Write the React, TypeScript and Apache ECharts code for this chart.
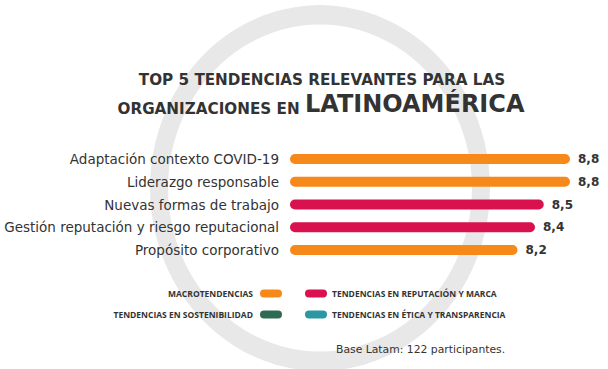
import React, { useEffect, useRef } from "react";
import * as echarts from "echarts";

const categories = [
  "Adaptación contexto COVID-19",
  "Liderazgo responsable",
  "Nuevas formas de trabajo",
  "Gestión reputación y riesgo reputacional",
  "Propósito corporativo",
];
const values = [8.8, 8.8, 8.5, 8.4, 8.2];
const groups = [0, 0, 1, 1, 0];
const groupNames = [
  "MACROTENDENCIAS",
  "TENDENCIAS EN REPUTACIÓN Y MARCA",
  "TENDENCIAS EN SOSTENIBILIDAD",
  "TENDENCIAS EN ÉTICA Y TRANSPARENCIA",
];
const groupColors = ["#F7891B", "#D9114F", "#2E6B52", "#2A98A3"];
const titleLine1 = "TOP 5 TENDENCIAS RELEVANTES PARA LAS";
const titleLine2a = "ORGANIZACIONES EN ";
const titleLine2b = "LATINOAMÉRICA";
const footnote = "Base Latam: 122 participantes.";

const FONT = "'DejaVu Sans', sans-serif";
const LFONT = "'Open Sans', sans-serif";
const TEXT = "#333333";

export default function App() {
  const ref = useRef<HTMLDivElement>(null);
  useEffect(() => {
    document.body.style.margin = "0";
    const chart = echarts.init(ref.current!, null, { renderer: "svg" });

    const legendPos = [
      { x: 282, y: 293.5, side: "left" },
      { x: 305, y: 293.5, side: "right" },
      { x: 282, y: 314.5, side: "left" },
      { x: 305, y: 314.5, side: "right" },
    ];
    const legendEls: any[] = [];
    groupNames.forEach((name, i) => {
      const p = legendPos[i];
      const pillX = p.side === "left" ? p.x - 22 : p.x;
      legendEls.push({
        type: "rect",
        shape: { x: pillX, y: p.y - 4, width: 22, height: 8, r: 4 },
        style: { fill: groupColors[i] },
        z: 10,
      });
      legendEls.push({
        type: "text",
        x: p.side === "left" ? pillX - 7 : pillX + 27,
        y: p.y,
        style: {
          text: name,
          fill: TEXT,
          font: `bold 8.5px ${LFONT}`,
          textAlign: p.side === "left" ? "right" : "left",
          textVerticalAlign: "middle",
        },
        z: 10,
      });
    });

    chart.setOption({
      animation: false,
      backgroundColor: "#ffffff",
      grid: { left: 290, right: 20.5, top: 147.6, bottom: 107.6 },
      xAxis: {
        type: "value",
        min: 5.6,
        max: 9.0,
        show: false,
      },
      yAxis: {
        type: "category",
        data: categories,
        inverse: true,
        axisLine: { show: false },
        axisTick: { show: false },
        axisLabel: {
          color: TEXT,
          fontFamily: FONT,
          fontSize: 13.5,
          margin: 11,
        },
      },
      series: [
        {
          type: "bar",
          barWidth: 10,
          data: values.map((v, i) => ({
            value: v,
            itemStyle: { color: groupColors[groups[i]], borderRadius: 5 },
          })),
          label: {
            show: true,
            position: "right",
            distance: 8,
            color: TEXT,
            fontFamily: FONT,
            fontWeight: "bold",
            fontSize: 12,
            formatter: (p: any) => p.value.toFixed(1).replace(".", ","),
          },
          z: 5,
        },
      ],
      graphic: [
        {
          type: "ring",
          x: 320,
          y: 188,
          scaleX: 1,
          scaleY: 1.076,
          shape: { cx: 0, cy: 0, r: 170, r0: 152 },
          style: { fill: "#e8e8e8" },
          z: -10,
          silent: true,
        },
        {
          type: "text",
          x: 322,
          y: 87,
          style: {
            text: titleLine1,
            fill: TEXT,
            font: `bold 15.2px ${FONT}`,
            textAlign: "center",
            textVerticalAlign: "bottom",
          },
          z: 10,
        },
        {
          type: "text",
          x: 321,
          y: 116,
          style: {
            text: `{a|${titleLine2a}}{b|${titleLine2b}}`,
            textAlign: "center",
            textVerticalAlign: "bottom",
            rich: {
              a: { font: `bold 15.2px ${FONT}`, fill: TEXT, color: TEXT, verticalAlign: "bottom" },
              b: { font: `bold 24px ${FONT}`, fill: TEXT, color: TEXT, verticalAlign: "bottom" },
            },
          },
          z: 10,
        },
        ...legendEls,
        {
          type: "text",
          x: 336,
          y: 349,
          style: {
            text: footnote,
            fill: TEXT,
            font: `10.8px ${FONT}`,
            textAlign: "left",
            textVerticalAlign: "middle",
          },
          z: 10,
        },
      ],
    });
    return () => chart.dispose();
  }, []);
  return <div ref={ref} style={{ width: 608, height: 369 }} />;
}
